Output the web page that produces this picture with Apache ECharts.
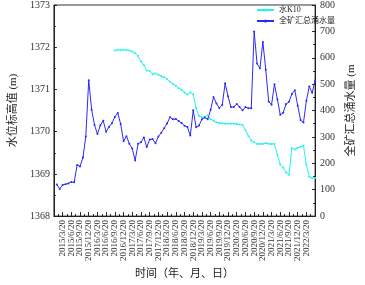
<!DOCTYPE html>
<html>
<head>
<meta charset="utf-8">
<script src="https://cdn.jsdelivr.net/npm/echarts@6/dist/echarts.min.js"></script>
<style>html,body{margin:0;padding:0;background:#fff}#c{width:365px;height:285px}</style>
</head>
<body>
<div id="c"></div>
<script>
// x axis: month offset from 2014/12/20; tick labels quarterly 2015/3/20 .. 2022/6/20
var axisStart = {year: 2014, month: 12};
var tickLabels = ['2015/3/20','2015/6/20','2015/9/20','2015/12/20','2016/3/20','2016/6/20','2016/9/20','2016/12/20',
  '2017/3/20','2017/6/20','2017/9/20','2017/12/20','2018/3/20','2018/6/20','2018/9/20','2018/12/20',
  '2019/3/20','2019/6/20','2019/9/20','2019/12/20','2020/3/20','2020/6/20','2020/9/20','2020/12/20',
  '2021/3/20','2021/6/20','2021/9/20','2021/12/20','2022/3/20','2022/6/20'];

// 全矿汇总涌水量 monthly, starting 2015/1/20 (right axis)
var flowStart = '2015/1/20';
var flowValues = [120,103,118,121,124,129,128,194,188,222,302,515,403,345,311,344,361,320,338,352,
  376,391,349,284,303,274,256,211,274,280,298,262,290,292,276,302,316,333,351,375,
  367,368,360,353,342,338,305,401,337,343,367,374,367,403,451,427,410,421,503,454,
  413,413,425,413,401,413,409,409,700,578,560,660,555,434,422,500,443,384,392,425,
  433,463,477,419,364,355,437,491,467,515];

// 水K10 monthly, starting 2016/9/20 (left axis)
var levelStart = '2016/9/20';
var levelValues = [1371.92,1371.94,1371.93,1371.94,1371.93,1371.92,1371.90,1371.86,1371.79,1371.66,
  1371.57,1371.45,1371.43,1371.36,1371.38,1371.35,1371.31,1371.29,1371.24,1371.18,
  1371.13,1371.09,1371.03,1370.99,1370.93,1370.88,1370.93,1370.88,1370.56,1370.37,
  1370.34,1370.35,1370.39,1370.30,1370.26,1370.22,1370.20,1370.20,1370.19,1370.19,
  1370.19,1370.19,1370.18,1370.17,1370.16,1370.04,1369.90,1369.79,1369.75,1369.71,
  1369.71,1369.71,1369.73,1369.71,1369.71,1369.71,1369.45,1369.22,1369.15,1369.03,
  1368.98,1369.61,1369.58,1369.62,1369.64,1369.67,1369.21,1368.93,1368.90,1368.90];

function monthIndex(dateStr){
  var p = dateStr.split('/');
  return (parseInt(p[0]) - axisStart.year) * 12 + (parseInt(p[1]) - axisStart.month);
}
function toSeries(start, vals){
  var s = monthIndex(start);
  return vals.map(function(v, k){ return [s + k, v]; });
}
var labelMap = {};
tickLabels.forEach(function(t){ labelMap[monthIndex(t)] = t; });

var FONT = "'Liberation Serif','Noto Sans CJK SC',serif";
var chart = echarts.init(document.getElementById('c'), null, {renderer:'canvas'});
chart.setOption({
  animation: false,
  textStyle: {fontFamily: FONT},
  grid: {left: 43, right: 36, top: 3, bottom: 61, show: true, borderColor: '#333', borderWidth: 1, backgroundColor: 'transparent'},
  legend: {
    orient: 'vertical', left: 251, top: 1, itemWidth: 17, itemHeight: 4, itemGap: 3,
    textStyle: {fontSize: 8, color: '#222', fontFamily: FONT},
    data: ['水K10', '全矿汇总涌水量']
  },
  xAxis: {
    type: 'value', min: 0, max: 90, interval: 3,
    name: '时间（年、月、日）', nameLocation: 'middle', nameGap: 46,
    nameTextStyle: {fontSize: 11, color: '#222', fontFamily: FONT},
    axisLine: {lineStyle: {color: '#222', width: 1}},
    axisTick: {inside: true, length: 4, lineStyle: {color: '#222'}},
    minorTick: {show: true, splitNumber: 2, length: 2, lineStyle: {color: '#222'}},
    splitLine: {show: false},
    axisLabel: {rotate: 90, fontSize: 9, color: '#333', margin: 4, fontFamily: FONT,
      formatter: function(v){ return labelMap[v] || ''; }}
  },
  yAxis: [{
    type: 'value', min: 1368, max: 1373, interval: 1,
    name: '水位标高值 (m)', nameLocation: 'middle', nameGap: 26, nameRotate: 90,
    nameTextStyle: {fontSize: 11, color: '#222', fontFamily: FONT},
    axisLine: {show: true, lineStyle: {color: '#222'}},
    axisTick: {inside: true, length: 3, lineStyle: {color: '#222'}},
    minorTick: {show: true, splitNumber: 2, length: 2, lineStyle: {color: '#222'}},
    splitLine: {show: false},
    axisLabel: {fontSize: 10, color: '#333', margin: 4, fontFamily: FONT,
      formatter: function(v){ return String(v); }}
  }, {
    type: 'value', min: 0, max: 800, interval: 100, position: 'right',
    name: '全矿汇总涌水量 (m', nameLocation: 'middle', nameGap: 20, nameRotate: 90,
    nameTextStyle: {fontSize: 11, color: '#222', fontFamily: FONT},
    axisLine: {show: true, lineStyle: {color: '#222'}},
    axisTick: {inside: true, length: 3, lineStyle: {color: '#222'}},
    minorTick: {show: true, splitNumber: 2, length: 2, lineStyle: {color: '#222'}},
    splitLine: {show: false},
    axisLabel: {fontSize: 10, color: '#333', margin: 5, fontFamily: FONT}
  }],
  series: [{
    name: '水K10', type: 'line', yAxisIndex: 0,
    data: toSeries(levelStart, levelValues),
    symbol: 'circle', symbolSize: 2,
    lineStyle: {color: '#22f2f2', width: 1}, itemStyle: {color: '#22f2f2'}
  }, {
    name: '全矿汇总涌水量', type: 'line', yAxisIndex: 1,
    data: toSeries(flowStart, flowValues),
    symbol: 'circle', symbolSize: 2,
    lineStyle: {color: '#2a2af5', width: 1}, itemStyle: {color: '#2a2af5'}
  }]
});
</script>
</body>
</html>
